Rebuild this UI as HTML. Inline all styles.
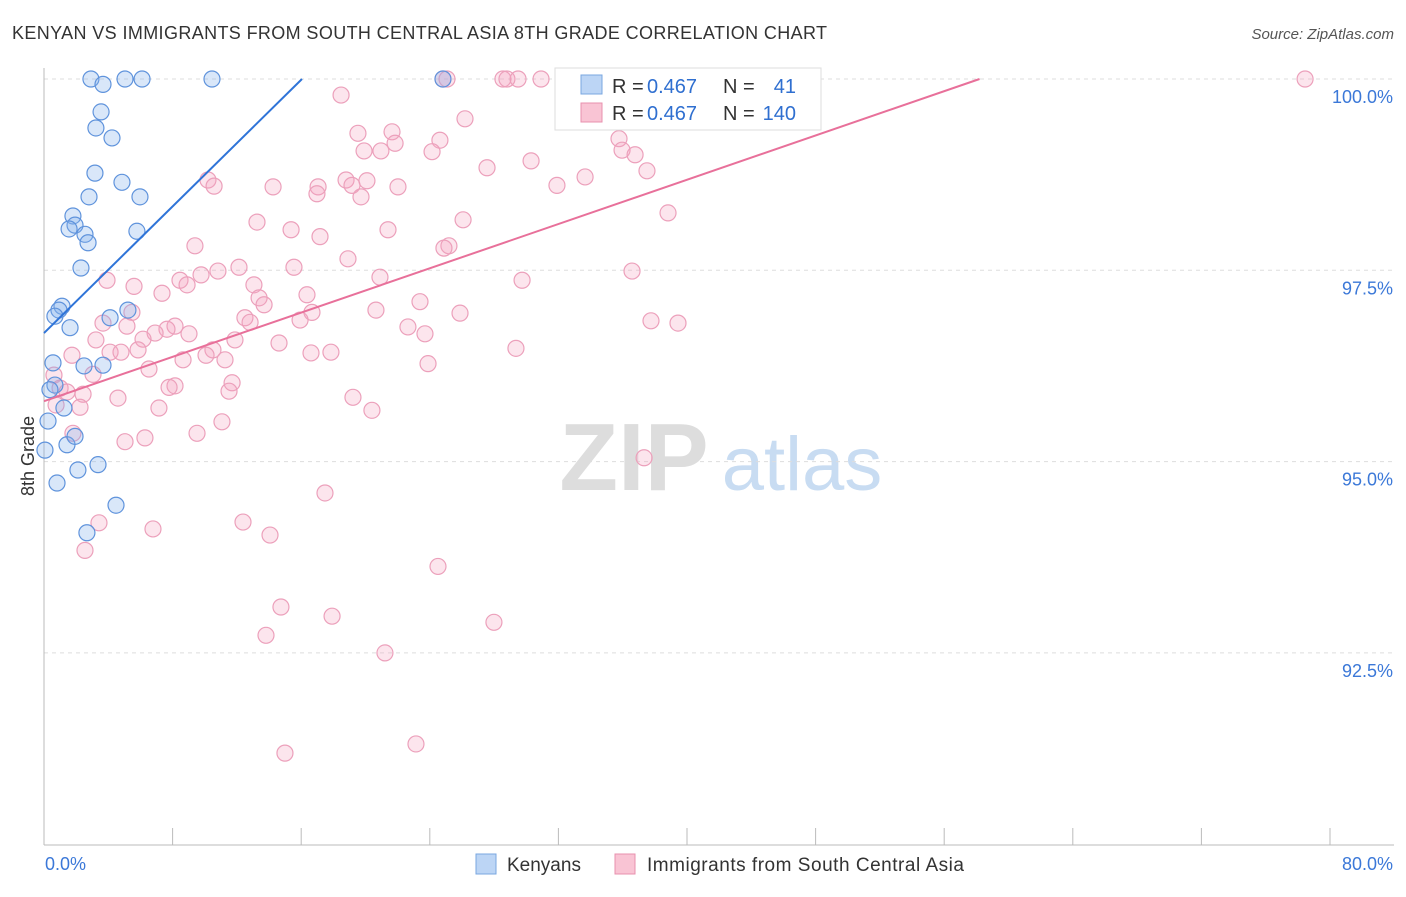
<!DOCTYPE html>
<html><head><meta charset="utf-8"><style>
body{margin:0;background:#fff;font-family:"Liberation Sans",sans-serif;}
svg text{font-family:"Liberation Sans",sans-serif;}
</style></head><body>
<svg id="chart" width="1406" height="892">
<text x="12" y="39" font-size="18" fill="#333" textLength="815" lengthAdjust="spacing">KENYAN VS IMMIGRANTS FROM SOUTH CENTRAL ASIA 8TH GRADE CORRELATION CHART</text>
<text x="1394" y="39" font-size="15" fill="#555" font-style="italic" text-anchor="end">Source: ZipAtlas.com</text>
<text x="34" y="456" font-size="18" fill="#333" text-anchor="middle" transform="rotate(-90 34 456)">8th Grade</text>
<g><text x="634" y="490" font-size="96" fill="#ddd" font-family="Liberation Serif" text-anchor="middle" font-weight="bold">ZIP</text><text x="802" y="490" font-size="76" fill="#c8dcf2" text-anchor="middle">atlas</text></g>
<g id="grid"></g><g id="axes"></g><g id="marks"></g><g id="lines"></g>
<g>
<rect x="555" y="68" width="266" height="62" fill="#fff" stroke="#ddd"/>
<rect x="581" y="75" width="21" height="19" fill="#bcd5f5" stroke="#7aa7e0"/>
<rect x="581" y="103" width="21" height="19" fill="#f9c4d4" stroke="#e890ae"/>
<text x="612" y="93" font-size="20" fill="#333">R =</text>
<text x="647" y="93" font-size="20" fill="#2f6fd0">0.467</text>
<text x="723" y="93" font-size="20" fill="#333">N =</text>
<text x="796" y="93" font-size="20" fill="#2f6fd0" text-anchor="end">41</text>
<text x="612" y="120" font-size="20" fill="#333">R =</text>
<text x="647" y="120" font-size="20" fill="#2f6fd0">0.467</text>
<text x="723" y="120" font-size="20" fill="#333">N =</text>
<text x="796" y="120" font-size="20" fill="#2f6fd0" text-anchor="end">140</text>
</g>
<g>
<rect x="476" y="854" width="20" height="20" fill="#bcd5f5" stroke="#7aa7e0"/>
<text x="507" y="871" font-size="19" fill="#333">Kenyans</text>
<rect x="615" y="854" width="20" height="20" fill="#f9c4d4" stroke="#e890ae"/>
<text x="647" y="871" font-size="19" fill="#333" textLength="317" lengthAdjust="spacing">Immigrants from South Central Asia</text>
</g>
</svg>
<script>
const xTicks=[0,8,16,24,32,40,48,56,64,72,80];
const yTicks=[92.5,95,97.5,100];
const yTickLabels=["92.5%","95.0%","97.5%","100.0%"];
const blueX=[2.92,5.04,6.10,10.45,24.82,3.67,3.55,3.23,4.23,3.17,4.85,2.80,5.97,1.80,1.93,1.56,2.55,2.74,5.78,2.30,1.12,0.93,0.68,5.22,4.11,1.62,0.56,2.49,3.67,1.24,0.25,1.43,0.06,3.36,2.11,0.81,4.48,2.67,1.93,0.68,0.37];
const blueY=[100,100,100,100,100,99.93,99.57,99.36,99.23,98.77,98.65,98.46,98.46,98.21,98.09,98.04,97.97,97.86,98.01,97.53,97.03,96.98,96.90,96.98,96.88,96.75,96.29,96.25,96.26,95.70,95.53,95.22,95.15,94.96,94.89,94.72,94.43,94.07,95.33,96.00,95.94];
const pinkX=[24.82,25.07,28.55,28.80,29.49,30.92,32.91,41.68,78.45,18.48,26.19,19.53,21.65,24.63,21.84,19.91,20.96,24.14,35.77,35.96,36.77,30.30,27.56,37.51,10.20,10.58,14.25,17.05,18.79,19.16,20.09,22.02,31.91,33.66,16.98,19.72,38.82,26.07,13.25,15.37,21.40,17.17,9.39,25.19,24.88,18.91,12.13,15.55,36.58,10.82,9.77,20.90,29.74,3.92,8.46,8.90,5.60,13.06,7.34,16.36,23.39,13.38,13.69,20.65,25.88,16.67,15.93,12.50,12.82,5.47,3.67,5.16,8.15,9.02,7.65,6.91,22.64,23.70,37.76,39.44,3.23,6.16,11.88,14.62,29.36,4.11,4.79,5.85,16.61,17.85,10.51,10.08,8.65,23.89,6.53,11.26,3.05,1.74,0.62,1.00,1.43,2.43,4.60,8.15,7.78,11.70,11.51,19.22,20.40,2.24,7.15,9.52,11.07,1.80,6.28,5.04,37.33,17.48,12.38,3.42,6.78,14.06,2.55,24.51,14.74,17.92,27.99,13.81,21.21,23.14,14.99,0.75];
const pinkY=[100,100,100,100,100,100,100,100,100,99.79,99.48,99.29,99.31,99.20,99.16,99.06,99.06,99.05,99.22,99.07,99.01,98.93,98.84,98.80,98.68,98.60,98.59,98.59,98.68,98.61,98.67,98.59,98.61,98.72,98.50,98.46,98.25,98.16,98.13,98.03,98.03,97.94,97.82,97.82,97.79,97.65,97.54,97.54,97.49,97.49,97.44,97.41,97.37,97.37,97.37,97.31,97.29,97.31,97.20,97.18,97.09,97.14,97.05,96.98,96.94,96.95,96.85,96.88,96.82,96.95,96.81,96.77,96.77,96.67,96.73,96.68,96.76,96.67,96.84,96.81,96.59,96.60,96.59,96.55,96.48,96.43,96.43,96.46,96.42,96.43,96.46,96.39,96.33,96.28,96.21,96.33,96.14,96.39,96.13,95.96,95.91,95.88,95.83,95.99,95.97,96.03,95.92,95.84,95.67,95.71,95.70,95.37,95.52,95.37,95.31,95.26,95.05,94.59,94.21,94.20,94.12,94.04,93.84,93.63,93.10,92.98,92.90,92.73,92.50,91.31,91.19,95.74];
const blueLine=[[0,96.68],[16.05,100]];
const pinkLine=[[0,95.79],[58.2,100]];
const NS="http://www.w3.org/2000/svg";
const X=v=>44+v/80*1286;
const Y=v=>79+(100-v)/2.5*191.3;
function mk(tag,attrs,parent){const e=document.createElementNS(NS,tag);for(const k in attrs)e.setAttribute(k,attrs[k]);document.getElementById(parent).appendChild(e);return e;}
yTicks.forEach((t,i)=>{
 const g=mk('line',{x1:44,x2:1394,y1:Y(t),y2:Y(t),stroke:'#ddd','stroke-dasharray':'4,4'},'grid');
 
 
 const l=mk('text',{x:1393,y:Y(t)+24,'font-size':18,fill:'#3b78d8','text-anchor':'end'},'axes');
 l.textContent=yTickLabels[i];
 
 
});
const ax=mk('line',{x1:44,x2:44,y1:68,y2:845,stroke:'#bbb'},'axes');


const bx=mk('line',{x1:44,x2:1394,y1:845,y2:845,stroke:'#bbb'},'axes');


xTicks.forEach(t=>{
 const k=mk('line',{x1:X(t),x2:X(t),y1:828,y2:845,stroke:'#bbb'},'axes');
 
 
});
const x0=mk('text',{x:45,y:870,'font-size':18,fill:'#3b78d8'},'axes');x0.textContent='0.0%';


const x1=mk('text',{x:1393,y:870,'font-size':18,fill:'#3b78d8','text-anchor':'end'},'axes');x1.textContent='80.0%';


pinkX.forEach((v,i)=>{
 const c=mk('circle',{cx:X(v),cy:Y(pinkY[i]),r:8,fill:'rgba(244,160,190,0.28)',stroke:'#eca0bb','stroke-width':1.2},'marks');
 
 
});
blueX.forEach((v,i)=>{
 const c=mk('circle',{cx:X(v),cy:Y(blueY[i]),r:8,fill:'rgba(130,175,235,0.3)',stroke:'#5f93dc','stroke-width':1.2},'marks');
 
 
});
const bl=mk('line',{x1:X(blueLine[0][0]),y1:Y(blueLine[0][1]),x2:X(blueLine[1][0]),y2:Y(blueLine[1][1]),stroke:'#2f74d8','stroke-width':2},'lines');


const pl=mk('line',{x1:X(pinkLine[0][0]),y1:Y(pinkLine[0][1]),x2:X(pinkLine[1][0]),y2:Y(pinkLine[1][1]),stroke:'#e8709a','stroke-width':2},'lines');


</script>
</body></html>
